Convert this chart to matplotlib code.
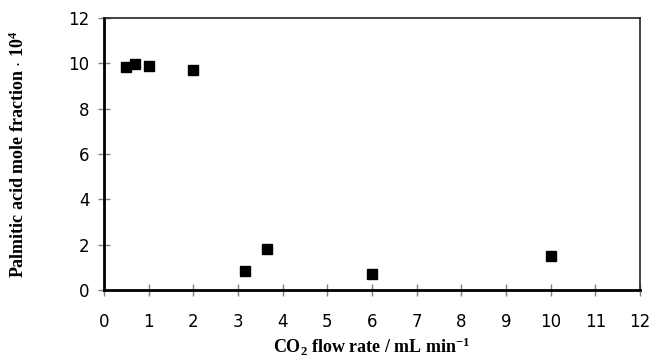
import matplotlib
matplotlib.use("Agg")
import matplotlib.pyplot as plt

# data
flow_rate = [0.5, 0.7, 1.0, 2.0, 3.15, 3.65, 6.0, 10.0]
mole_frac = [9.85, 9.95, 9.87, 9.7, 0.85, 1.8, 0.7, 1.5]
x_ticks = list(range(0, 13))
y_ticks = list(range(0, 13, 2))

plt.rcParams['mathtext.fontset'] = 'custom'
plt.rcParams['mathtext.rm'] = 'Liberation Serif:bold'
plt.rcParams['mathtext.bf'] = 'Liberation Serif:bold'
plt.rcParams['mathtext.default'] = 'rm'

fig = plt.figure(figsize=(6.52, 3.62), dpi=100)
ax = fig.add_axes([0.1595, 0.1989, 0.8221, 0.7514])

ax.plot(flow_rate, mole_frac, 's', color='black', markersize=7.5, clip_on=False)

ax.set_xlim(0, 12)
ax.set_ylim(0, 12)
ax.set_xticks(x_ticks)
ax.set_yticks(y_ticks)

ax.tick_params(direction='inout', length=9, width=1, color='#808080',
               labelsize=12, labelcolor='black')
ax.tick_params(axis='x', pad=12)
ax.tick_params(axis='y', pad=6)
for lab in ax.get_xticklabels() + ax.get_yticklabels():
    lab.set_family('DejaVu Sans')

ax.spines['left'].set_linewidth(2)
ax.spines['bottom'].set_linewidth(2)
ax.spines['top'].set_linewidth(1.2)
ax.spines['right'].set_linewidth(1.2)
ax.spines['top'].set_color('#222222')
ax.spines['right'].set_color('#222222')

ax.set_xlabel(r'CO$_2$ flow rate / mL min$^{-1}$', fontfamily='Liberation Serif',
              fontweight='bold', fontsize=13)
ax.set_ylabel(r'Palmitic acid mole fraction $\cdot$ 10$^4$', fontfamily='Liberation Serif',
              fontweight='bold', fontsize=13)
ax.xaxis.set_label_coords(0.5, -0.17)
ax.yaxis.set_label_coords(-0.142, 0.5)

fig.savefig('out.png', dpi=100)
